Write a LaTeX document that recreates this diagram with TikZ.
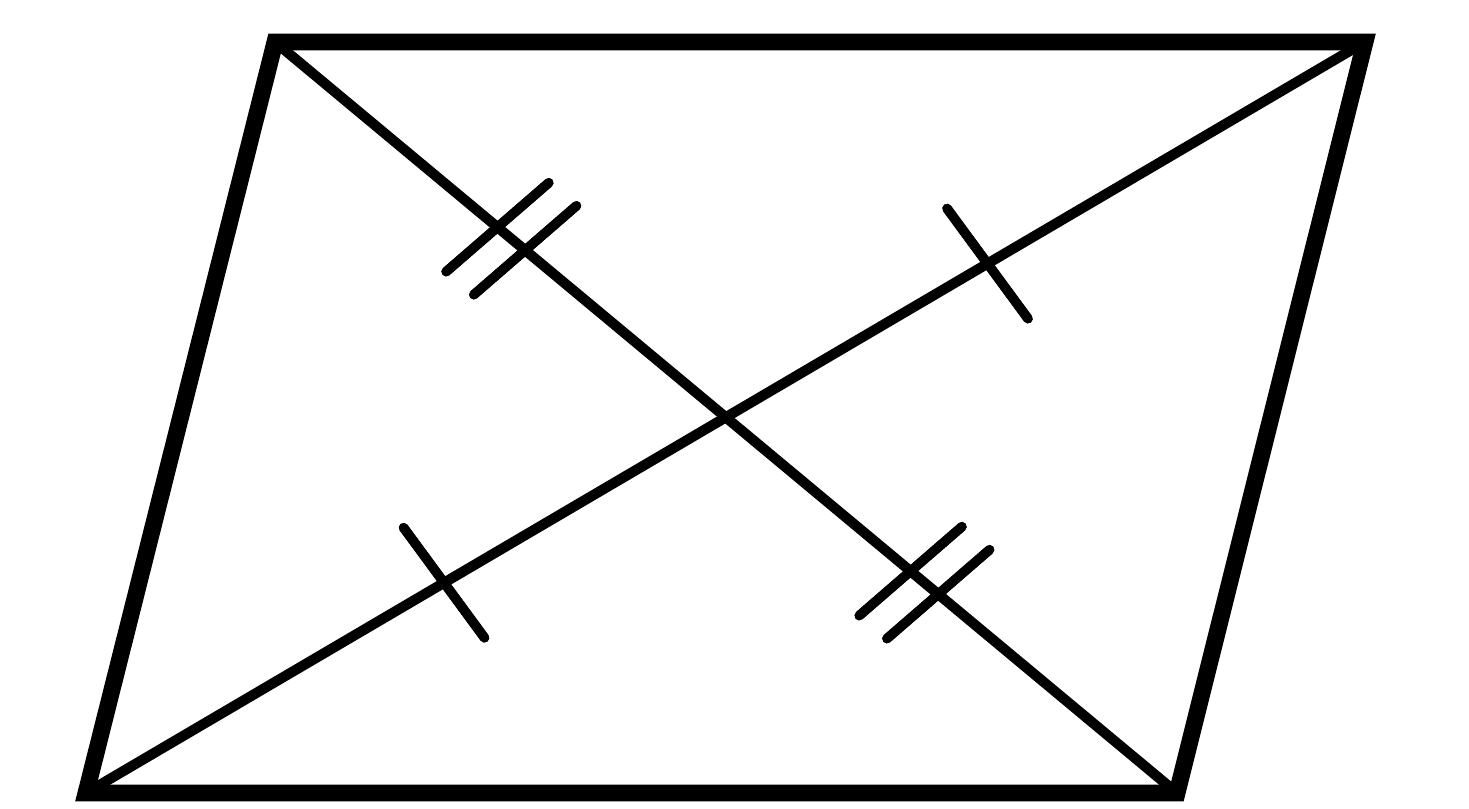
\documentclass[tikz,border=0pt]{standalone}
\usetikzlibrary{decorations.markings}

\tikzset{
  side/.style={line width=4.8pt, line join=miter},
  diag/.style={line width=2.9pt},
  markline/.style={line width=2.7pt, line cap=round},
  onetick/.style={postaction={decorate}, decoration={markings,
      mark=at position #1 with {\draw[markline] (0.07,-0.68) -- (-0.07,0.68);}}},
  twotick/.style={postaction={decorate}, decoration={markings,
      mark=at position #1 with {\draw[markline] (-0.29,-0.67) -- (-0.07,0.67);
                                \draw[markline] (0.07,-0.67) -- (0.29,0.67);}}}
}

\begin{document}
\begin{tikzpicture}
  \useasboundingbox (0,0) rectangle (14.69,8.09);
  % corners of the parallelogram
  \coordinate (tl) at (2.75,7.67);
  \coordinate (tr) at (13.65,7.67);
  \coordinate (bl) at (0.86,0.16);
  \coordinate (br) at (11.77,0.16);
  % diagonals with equal-part marks
  \draw[diag, twotick=0.262, twotick=0.72] (tl) -- (br);
  \draw[diag, onetick=0.28, onetick=0.705] (bl) -- (tr);
  % sides
  \draw[side] (tl) -- (tr) -- (br) -- (bl) -- cycle;
\end{tikzpicture}
\end{document}
